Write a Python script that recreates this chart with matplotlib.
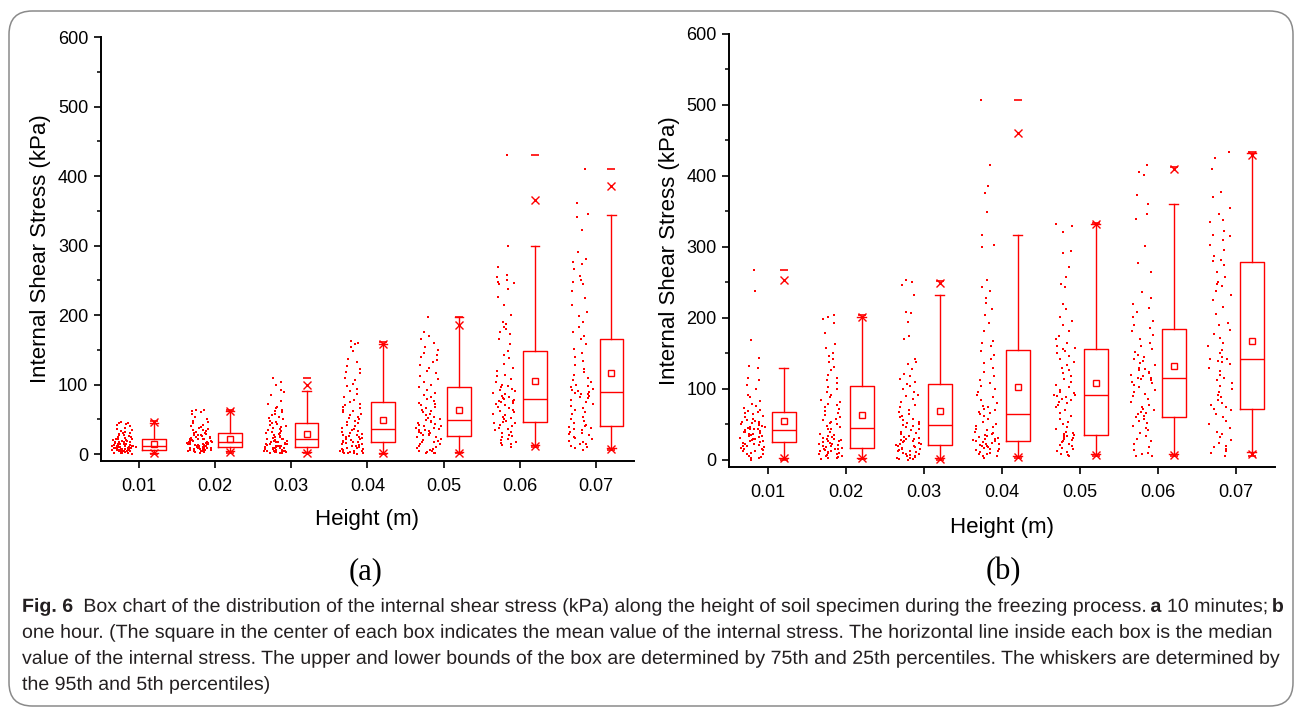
import numpy as np
import matplotlib
matplotlib.use("Agg")
import matplotlib.pyplot as plt
from matplotlib.patches import FancyBboxPatch, PathPatch
from matplotlib.textpath import TextPath
from matplotlib.font_manager import FontProperties
from matplotlib.transforms import Affine2D, IdentityTransform
from matplotlib.ticker import MultipleLocator, FixedLocator

plt.rcParams['font.family'] = ['Liberation Sans', 'DejaVu Sans']

heights = [0.01, 0.02, 0.03, 0.04, 0.05, 0.06, 0.07]
height_labels = ['0.01', '0.02', '0.03', '0.04', '0.05', '0.06', '0.07']

# (a) 10 minutes -- raw stresses (kPa) per height
a_pts = [
    [0, 1, 1, 2, 2, 3, 3, 3, 4, 4, 4, 5, 5, 5, 5, 6, 6, 6, 6, 6,
     7, 7, 7, 8, 8, 8, 8, 9, 9, 9, 9, 10, 10, 10, 10, 11, 11, 11, 11, 12,
     12, 13, 13, 14, 14, 15, 15, 16, 16, 17, 17, 18, 18, 19, 19, 20, 20, 21, 21, 22,
     23, 24, 25, 26, 27, 28, 29, 30, 31, 32, 33, 34, 36, 38, 40, 42, 43, 44, 45, 46],
    [2, 3, 3, 4, 4, 5, 5, 6, 6, 6, 7, 7, 7, 8, 8, 8, 9, 9, 9, 10,
     10, 10, 11, 11, 12, 12, 13, 13, 13, 14, 14, 15, 15, 15, 16, 16, 16, 17, 17, 18,
     18, 19, 19, 20, 20, 21, 21, 22, 22, 23, 23, 24, 25, 25, 26, 27, 27, 28, 29, 30,
     31, 32, 33, 34, 35, 36, 38, 39, 40, 42, 44, 46, 48, 50, 54, 58, 60, 62, 63, 64],
    [1, 2, 2, 3, 3, 3, 4, 4, 4, 5, 5, 5, 6, 6, 7, 7, 8, 8, 9, 9,
     10, 10, 11, 11, 12, 12, 13, 14, 14, 15, 15, 16, 17, 17, 18, 19, 19, 20, 21, 21,
     22, 23, 24, 25, 26, 27, 28, 29, 30, 31, 32, 33, 35, 36, 38, 39, 40, 42, 43, 44,
     46, 48, 50, 52, 54, 56, 58, 60, 62, 64, 66, 68, 72, 77, 85, 89, 92, 100, 104, 110],
    [0, 1, 1, 2, 2, 3, 3, 4, 5, 5, 6, 7, 7, 8, 9, 10, 11, 12, 13, 14,
     15, 16, 17, 18, 18, 19, 20, 21, 22, 23, 24, 25, 26, 27, 28, 29, 30, 32, 33, 35,
     36, 38, 40, 42, 44, 46, 48, 50, 52, 54, 56, 58, 60, 62, 64, 66, 68, 70, 72, 75,
     78, 82, 86, 90, 94, 98, 101, 106, 110, 116, 118, 123, 127, 133, 137, 148, 154, 158, 160, 162],
    [1, 2, 2, 3, 4, 5, 6, 7, 9, 10, 12, 14, 15, 17, 18, 19, 20, 22, 24, 25,
     27, 28, 29, 30, 31, 32, 33, 34, 35, 36, 37, 38, 40, 41, 42, 43, 44, 46, 47, 49,
     50, 52, 54, 56, 58, 60, 62, 64, 66, 68, 70, 72, 74, 76, 79, 82, 85, 88, 92, 96,
     100, 103, 108, 112, 116, 120, 124, 128, 132, 136, 140, 143, 146, 150, 154, 160, 166, 170, 175, 197],
    [10, 13, 15, 16, 18, 20, 22, 24, 26, 28, 30, 32, 34, 36, 38, 40, 42, 44, 45, 46,
     48, 50, 52, 54, 56, 58, 60, 62, 64, 66, 68, 70, 72, 74, 75, 76, 77, 78, 79, 80,
     82, 84, 86, 88, 90, 92, 94, 96, 98, 100, 104, 108, 112, 114, 119, 124, 130, 138, 142, 148,
     158, 165, 172, 175, 180, 183, 187, 190, 200, 215, 226, 238, 245, 246, 248, 251, 254, 257, 269, 300, 430],
    [6, 8, 10, 12, 14, 15, 17, 19, 21, 23, 25, 27, 29, 30, 32, 34, 36, 38, 39, 40,
     42, 45, 48, 51, 54, 57, 60, 63, 66, 69, 72, 75, 78, 80, 82, 84, 86, 87, 88, 89,
     90, 92, 94, 96, 98, 100, 103, 106, 110, 114, 118, 122, 128, 134, 140, 145, 151, 158, 165, 170,
     176, 183, 190, 198, 205, 215, 225, 235, 245, 247, 250, 256, 266, 274, 276, 280, 290, 322, 341, 346, 361, 410],
]

# (b) one hour
b_pts = [
    [0, 2, 3, 4, 6, 8, 9, 10, 12, 13, 14, 15, 16, 17, 18, 19, 20, 21, 22, 23,
     24, 25, 26, 27, 28, 29, 30, 31, 32, 33, 34, 35, 36, 37, 38, 39, 40, 41, 42, 43,
     43, 44, 45, 46, 47, 48, 49, 50, 51, 52, 53, 54, 55, 56, 58, 60, 62, 64, 66, 67,
     69, 71, 73, 76, 79, 83, 88, 92, 100, 106, 113, 116, 130, 132, 144, 169, 238, 268],
    [1, 2, 3, 4, 5, 6, 7, 8, 9, 10, 10, 11, 12, 13, 13, 14, 15, 15, 16, 17,
     18, 19, 20, 21, 22, 23, 24, 25, 26, 27, 28, 29, 30, 31, 32, 33, 35, 37, 40, 43,
     44, 46, 48, 50, 52, 54, 56, 58, 60, 63, 66, 69, 72, 75, 77, 79, 81, 84, 88, 92,
     96, 100, 103, 108, 112, 116, 120, 126, 131, 138, 142, 147, 151, 157, 163, 179, 193, 198, 202, 204],
    [0, 1, 1, 2, 3, 4, 5, 6, 7, 8, 9, 10, 11, 12, 13, 14, 15, 16, 17, 18,
     19, 20, 21, 22, 23, 24, 25, 26, 27, 28, 29, 30, 31, 32, 34, 36, 38, 40, 42, 44,
     46, 48, 49, 50, 52, 54, 56, 58, 60, 62, 65, 68, 71, 74, 78, 82, 86, 90, 92, 96,
     100, 104, 107, 110, 114, 118, 121, 128, 135, 138, 142, 171, 175, 194, 207, 209, 232, 246, 250, 254],
    [3, 5, 6, 8, 9, 10, 11, 12, 14, 15, 16, 17, 18, 19, 20, 21, 22, 23, 24, 25,
     26, 27, 28, 29, 30, 31, 32, 34, 35, 36, 38, 40, 42, 44, 46, 48, 50, 54, 58, 62,
     64, 66, 68, 70, 72, 74, 76, 80, 84, 88, 92, 96, 100, 104, 108, 112, 118, 124, 130, 136,
     142, 148, 154, 160, 164, 167, 181, 193, 204, 212, 221, 228, 238, 243, 254, 300, 303, 317, 349, 376, 386, 415, 507],
    [5, 7, 9, 11, 13, 15, 17, 19, 21, 23, 25, 27, 28, 30, 31, 32, 33, 34, 35, 36,
     38, 40, 43, 46, 50, 54, 58, 62, 66, 70, 74, 78, 80, 82, 84, 86, 88, 90, 91, 92,
     94, 96, 99, 102, 106, 110, 114, 118, 122, 126, 130, 134, 138, 142, 146, 150, 153, 156, 158, 160,
     165, 170, 175, 182, 190, 196, 202, 212, 220, 243, 248, 258, 272, 291, 294, 321, 330, 333],
    [5, 6, 8, 10, 14, 18, 22, 26, 30, 34, 38, 42, 45, 48, 52, 55, 58, 60, 62, 64,
     66, 68, 70, 72, 75, 78, 82, 86, 90, 93, 96, 99, 102, 105, 108, 110, 112, 114, 115, 116,
     118, 120, 122, 124, 126, 128, 130, 133, 136, 139, 142, 145, 148, 152, 156, 160, 165, 170, 176, 182,
     186, 190, 196, 202, 208, 214, 220, 228, 237, 265, 277, 301, 339, 347, 360, 373, 402, 406, 415],
    [5, 10, 13, 15, 18, 20, 24, 28, 32, 36, 40, 45, 50, 55, 60, 65, 70, 72, 75, 78,
     80, 84, 88, 92, 96, 100, 104, 108, 112, 116, 120, 125, 130, 135, 138, 140, 142, 142, 145, 150,
     155, 160, 165, 172, 178, 183, 190, 193, 205, 215, 225, 233, 238, 245, 248, 250, 257, 265, 274, 280,
     282, 287, 296, 303, 310, 315, 317, 323, 335, 338, 347, 355, 371, 377, 410, 425, 434],
]

# box statistics: mean, 25/50/75th, whisker ends, 1%/99% crosses, min/max dashes
a_mean = [15, 21, 28.8, 48.5, 64, 105, 116]
a_q1 = [6, 9.6, 9.6, 17.3, 26.4, 46, 40]
a_med = [11.5, 17.7, 21.6, 36, 49.4, 79, 89]
a_q3 = [22, 30, 44.6, 75.3, 96, 148, 166]
a_wlo = [2, 4, 3, 2, 3, 13, 9]
a_whi = [45, 62, 90, 158, 197, 300, 344]
a_xlo = [1, 3, 2, 1, 2, 11, 7]
a_xhi = [46, 62, 100, 158, 186, 365, 385]
a_min = [0, 2, 1, 0, 1, 10, 6]
a_max = [47, 63, 109, 161, 197, 430, 410]

b_mean = [54.3, 63.8, 69.4, 103, 109, 132.7, 168]
b_q1 = [24.8, 17.3, 21, 26.5, 35.3, 60, 71.2]
b_med = [42.6, 44.5, 49, 64, 91.5, 114.8, 142]
b_q3 = [67, 103.6, 106.4, 155, 156, 184.8, 279.5]
b_wlo = [3, 3, 2, 5, 8, 8, 11]
b_whi = [129.5, 202, 231.7, 317, 332, 360.7, 433]
b_xlo = [2, 2, 1.4, 4.5, 7, 7, 9]
b_xhi = [252.8, 202, 249.5, 461, 332, 410, 430]
b_min = [0, 1, 0, 3, 5, 6, 5]
b_max = [268, 204, 252, 507, 334, 413, 434]

W, H = 1295, 708
RED = '#ff0000'
fig = plt.figure(figsize=(W / 100, H / 100), dpi=100)


def px_rect(l, t, r, b):
    return [l / W, 1 - b / H, (r - l) / W, (b - t) / H]


def spread(vals, halfw, seed):
    # sideways scatter: wide where points crowd, narrower in the sparse tail
    v = np.asarray(vals, float)
    h = 0.05 * v.max()
    dens = np.array([(np.abs(v - x) <= h).sum() for x in v], float)
    w = halfw * (0.45 + 0.55 * np.sqrt(dens / dens.max()))
    u = np.modf(np.sin(np.arange(len(v)) * 78.233 + seed * 12.9898) * 43758.5453)[0]
    return u * w


def panel(ax, pts, mean, q1, med, q3, wlo, whi, xlo, xhi, vmin, vmax, seed):
    for k, (h, vals) in enumerate(zip(heights, pts)):
        ax.plot(h - 0.002 + spread(vals, 0.0017, seed + k), vals, ls='none',
                marker='s', ms=1.9, mew=0, color=RED, zorder=3)
    stats = []
    for i in range(len(heights)):
        stats.append(dict(med=med[i], q1=q1[i], q3=q3[i], whislo=wlo[i],
                          whishi=whi[i], mean=mean[i], fliers=[]))
    line = dict(color=RED, lw=1.0)
    ax.bxp(stats, positions=[h + 0.002 for h in heights], widths=0.0031,
           capwidths=0.0011, showmeans=True, showfliers=False,
           boxprops=line, medianprops=line, whiskerprops=line, capprops=line,
           meanprops=dict(marker='s', ms=4.5, mfc='none', mec=RED, mew=1.0),
           manage_ticks=False)
    xb = [h + 0.002 for h in heights]
    ax.plot(xb, xlo, ls='none', marker='x', ms=6, mew=1.0, color=RED)
    ax.plot(xb, xhi, ls='none', marker='x', ms=6, mew=1.0, color=RED)
    ax.plot(xb, vmin, ls='none', marker='_', ms=6, mew=1.2, color=RED)
    ax.plot(xb, vmax, ls='none', marker='_', ms=6, mew=1.2, color=RED)

    ax.set_xlim(0.005, 0.075)
    ax.set_ylim(-10, 600)
    ax.xaxis.set_major_locator(FixedLocator(heights))
    ax.set_xticklabels(height_labels)
    ax.yaxis.set_major_locator(MultipleLocator(100))
    ax.yaxis.set_minor_locator(MultipleLocator(50))
    for s in ('top', 'right'):
        ax.spines[s].set_visible(False)
    for s in ('left', 'bottom'):
        ax.spines[s].set_linewidth(1.4)
    ax.tick_params(which='major', direction='out', length=5, width=1.2,
                   labelsize=13, pad=4)
    ax.tick_params(which='minor', direction='out', length=3, width=1.1)
    ax.tick_params(axis='x', pad=7)
    ax.set_xlabel('Height (m)', fontsize=16)
    ax.set_ylabel('Internal Shear Stress (kPa)', fontsize=16)


ax_a = fig.add_axes(px_rect(100.7, 37, 634.3, 461))
ax_b = fig.add_axes(px_rect(729, 34, 1275, 467))
panel(ax_a, a_pts, a_mean, a_q1, a_med, a_q3, a_wlo, a_whi, a_xlo, a_xhi, a_min, a_max, 1)
panel(ax_b, b_pts, b_mean, b_q1, b_med, b_q3, b_wlo, b_whi, b_xlo, b_xhi, b_min, b_max, 11)

# axis-title placement in pixels
for ax, (l, t, r, b), ylx, xly in [(ax_a, (100.7, 37, 634.3, 461), 40.6, 520),
                                    (ax_b, (729, 34, 1275, 467), 669, 527)]:
    ax.yaxis.set_label_coords((ylx - l) / (r - l), 0.5)
    ax.yaxis.label.set_va('center')
    ax.xaxis.set_label_coords(0.5, -(xly - b) / (b - t))
    ax.xaxis.label.set_va('center')

fig.text(366 / W, 1 - 572 / H, '(a)', family='Liberation Serif', fontsize=22,
         ha='center', va='center')
fig.text(1003 / W, 1 - 572 / H, '(b)', family='Liberation Serif', fontsize=22,
         ha='center', va='center')

# rounded frame round the whole figure
frame = FancyBboxPatch((9 / W, 1 - 706 / H), (1293 - 9) / W, (706 - 11) / H,
                       boxstyle='round,pad=0,rounding_size=0.018',
                       transform=fig.transFigure, fill=False,
                       ec='#8a8a8a', lw=1.1, mutation_aspect=W / H)
fig.add_artist(frame)

# caption in a condensed face: glyph outlines squeezed sideways
cap_lines = [
    [('Fig. 6', 'bold'), ('  ', None),
     ('Box chart of the distribution of the internal shear stress (kPa) along the height of soil '
      'specimen during the freezing process.', 'normal'), (' ', None),
     ('a', 'bold'), (' ', None), ('10 minutes;', 'normal'), (' ', None), ('b', 'bold')],
    [('one hour. (The square in the center of each box indicates the mean value of the internal '
      'stress. The horizontal line inside each box is the median', 'normal')],
    [('value of the internal stress. The upper and lower bounds of the box are determined by 75th '
      'and 25th percentiles. The whiskers are determined by', 'normal')],
    [('the 95th and 5th percentiles)', 'normal')],
]
cap_y = [605, 631, 657, 683]
em = 19.0
props = {w: FontProperties(family='Liberation Sans', weight=w) for w in ('normal', 'bold')}
space = 0.278 * em


def run_width(runs):
    total = 0.0
    for s, wt in runs:
        if wt is None:
            total += len(s) * space
        else:
            total += TextPath((0, 0), s, size=em, prop=props[wt]).get_extents().x1
    return total


sx = (1283 - 22) / run_width(cap_lines[0])
for runs, yc in zip(cap_lines, cap_y):
    x = 22.0
    base = H - (yc + 0.36 * em)
    for s, wt in runs:
        if wt is None:
            x += len(s) * space * sx
            continue
        tp = TextPath((0, 0), s, size=em, prop=props[wt])
        tr = Affine2D().scale(sx, 1.0).translate(x, base) + IdentityTransform()
        fig.add_artist(PathPatch(tp, transform=tr, fc='#231f20', ec='none', lw=0))
        x += tp.get_extents().x1 * sx

fig.savefig('out.png', dpi=100)
